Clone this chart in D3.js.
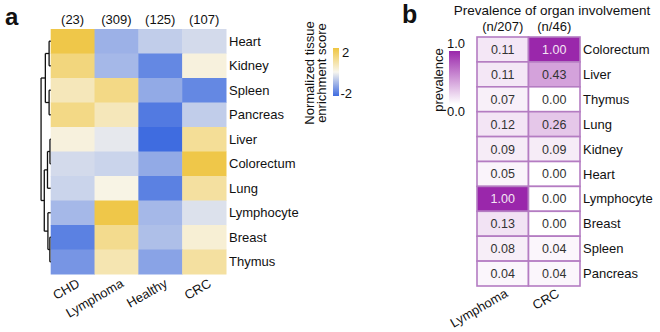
<!DOCTYPE html>
<meta charset="utf-8"/>
<head>
<script src="https://d3js.org/d3.v7.min.js"></script>
<style>
body { margin: 0; background: #fff; }
svg { font-family: "Liberation Sans", Arial, sans-serif; }
text { fill: #111; }
.panel { font-weight: bold; }
</style>
</head>
<body>
<div id="chart"></div>
<script type="text/javascript">

// ---- panel a: tissue enrichment ----
var organsA = ["Heart", "Kidney", "Spleen", "Pancreas", "Liver", "Colorectum", "Lung", "Lymphocyte", "Breast", "Thymus"];
var groupsA = ["CHD", "Lymphoma", "Healthy", "CRC"];
var groupCounts = [23, 309, 125, 107];
var chdScore      = [1.9, 1.3, 0.6, 1.2, 0.2, -0.4, -0.5, -0.9, -1.7, -1.4];
var lymphomaScore = [-1.0, -0.9, 1.2, 0.6, -0.2, -0.5, 0.1, 1.9, 1.1, 0.7];
var healthyScore  = [-0.6, -1.6, -1.1, -1.8, -2.0, -1.1, -1.7, -0.9, -0.8, -1.2];
var crcScore      = [-0.4, 0.2, -1.6, -0.6, 1.0, 1.9, 0.9, -0.3, 0.3, 0.9];

// row clustering (merge heights in arbitrary units)
var rowTree = { h: 9, children: [
  { h: 5, children: [
    { h: 1.5, children: [{ name: "Heart" }, { name: "Kidney" }] },
    { h: 1.5, children: [{ name: "Spleen" }, { name: "Pancreas" }] } ] },
  { h: 6, children: [
    { h: 3, children: [
      { h: 0.7, children: [{ name: "Liver" }, { name: "Colorectum" }] },
      { name: "Lung" } ] },
    { h: 2.6, children: [
      { name: "Lymphocyte" },
      { h: 0.8, children: [{ name: "Breast" }, { name: "Thymus" }] } ] } ] } ] };

// ---- panel b: prevalence ----
var organsB = ["Colorectum", "Liver", "Thymus", "Lung", "Kidney", "Heart", "Lymphocyte", "Breast", "Spleen", "Pancreas"];
var groupsB = ["Lymphoma", "CRC"];
var groupDenoms = ["(n/207)", "(n/46)"];
var lymphomaPrev = [0.11, 0.11, 0.07, 0.12, 0.09, 0.05, 1.00, 0.13, 0.08, 0.04];
var crcPrev      = [1.00, 0.43, 0.00, 0.26, 0.09, 0.00, 0.00, 0.00, 0.04, 0.04];

var W = 660, H = 332;
var svg = d3.select("#chart").append("svg").attr("width", W).attr("height", H);
var defs = svg.append("defs");

var enrichColor = d3.scaleLinear().domain([-2, 0, 2])
    .range(["#3f6ce0", "#f8f6ee", "#efc540"]);
var prevColor = d3.scaleLinear().domain([0, 1]).range(["#ffffff", "#9a27ab"]);

// ===== panel a =====
svg.append("text").attr("class", "panel").attr("x", 5).attr("y", 25)
  .style("font-size", "24px").text("a");

var xA = d3.scaleBand().domain(groupsA).range([50.7, 226]);
var yA = d3.scaleBand().domain(organsA).range([29, 274]);

var scoreCols = [chdScore, lymphomaScore, healthyScore, crcScore];
var cellsA = [];
organsA.forEach(function(o, i) {
  groupsA.forEach(function(g, j) {
    cellsA.push({ organ: o, group: g, v: scoreCols[j][i] });
  });
});

svg.append("g").selectAll("rect").data(cellsA).enter().append("rect")
  .attr("x", function(d) { return xA(d.group); })
  .attr("y", function(d) { return yA(d.organ); })
  .attr("width", xA.bandwidth() + 0.5)
  .attr("height", yA.bandwidth() + 0.5)
  .attr("fill", function(d) { return enrichColor(d.v); });

svg.append("g").selectAll("text").data(groupsA).enter().append("text")
  .attr("x", function(d) { return xA(d) + xA.bandwidth() / 2; })
  .attr("y", 24).attr("text-anchor", "middle")
  .style("font-size", "13px")
  .text(function(d, i) { return "(" + groupCounts[i] + ")"; });

svg.append("g").selectAll("text").data(organsA).enter().append("text")
  .attr("x", 229)
  .attr("y", function(d) { return yA(d) + yA.bandwidth() / 2; })
  .attr("dy", "0.35em")
  .style("font-size", "13px")
  .text(function(d) { return d; });

svg.append("g").selectAll("text").data(groupsA).enter().append("text")
  .attr("text-anchor", "end")
  .attr("transform", function(d) {
    return "translate(" + (xA(d) + xA.bandwidth() / 2 + 8) + ",286) rotate(-30)";
  })
  .style("font-size", "13px")
  .text(function(d) { return d; });

// dendrogram
var root = d3.hierarchy(rowTree);
var hx = d3.scaleLinear().domain([0, 10]).range([50.7, 40]);
root.eachAfter(function(n) {
  if (!n.children) {
    n.py = yA(n.data.name) + yA.bandwidth() / 2;
    n.px = hx(0);
  } else {
    n.py = d3.mean(n.children, function(c) { return c.py; });
    n.px = hx(n.data.h);
  }
});
var dendro = svg.append("g").attr("fill", "none").attr("stroke", "#111").attr("stroke-width", 1.3);
root.descendants().filter(function(n) { return n.children; }).forEach(function(n) {
  var ys = n.children.map(function(c) { return c.py; });
  dendro.append("path").attr("d",
    "M" + n.px + "," + d3.min(ys) + "V" + d3.max(ys));
  n.children.forEach(function(c) {
    dendro.append("path").attr("d", "M" + n.px + "," + c.py + "H" + c.px);
  });
});

// colour key
var gradA = defs.append("linearGradient").attr("id", "gradA")
  .attr("x1", 0).attr("y1", 1).attr("x2", 0).attr("y2", 0);
[-2, -1, 0, 1, 2].forEach(function(v) {
  gradA.append("stop").attr("offset", ((v + 2) / 4 * 100) + "%").attr("stop-color", enrichColor(v));
});
var keyA = d3.scaleLinear().domain([-2, 2]).range([96, 48]);
svg.append("rect").attr("x", 333).attr("y", keyA(2)).attr("width", 6)
  .attr("height", keyA(-2) - keyA(2)).attr("fill", "url(#gradA)");
svg.append("g").selectAll("text").data([2, -2]).enter().append("text")
  .attr("x", function(d) { return d > 0 ? 342 : 340.5; })
  .attr("y", function(d) { return keyA(d) + (d > 0 ? 4 : -3); })
  .attr("dy", "0.35em")
  .style("font-size", "13px")
  .text(function(d) { return d; });
var titleA = svg.append("text").attr("text-anchor", "middle")
  .attr("transform", "translate(314,73) rotate(-90)")
  .style("font-size", "13px");
titleA.append("tspan").attr("x", 0).attr("y", 0).text("Normalized tissue");
titleA.append("tspan").attr("x", 0).attr("y", 12).text("enrichment score");

// ===== panel b =====
svg.append("text").attr("class", "panel").attr("x", 402).attr("y", 23)
  .style("font-size", "25px").text("b");

var xB = d3.scaleBand().domain(groupsB).range([477, 580]);
var yB = d3.scaleBand().domain(organsB).range([37, 286]);

svg.append("text").attr("x", 552).attr("y", 15).attr("text-anchor", "middle")
  .style("font-size", "13.5px").text("Prevalence of organ involvement");
svg.append("g").selectAll("text").data(groupsB).enter().append("text")
  .attr("x", function(d) { return xB(d) + xB.bandwidth() / 2; })
  .attr("y", 31).attr("text-anchor", "middle")
  .style("font-size", "13px")
  .text(function(d, i) { return groupDenoms[i]; });

var prevCols = [lymphomaPrev, crcPrev];
var cellsB = [];
organsB.forEach(function(o, i) {
  groupsB.forEach(function(g, j) {
    cellsB.push({ organ: o, group: g, v: prevCols[j][i] });
  });
});

var cellB = svg.append("g").selectAll("g").data(cellsB).enter().append("g");
cellB.append("rect")
  .attr("x", function(d) { return xB(d.group); })
  .attr("y", function(d) { return yB(d.organ); })
  .attr("width", xB.bandwidth())
  .attr("height", yB.bandwidth())
  .attr("fill", function(d) { return prevColor(d.v); })
  .attr("stroke", "#b47cc2").attr("stroke-width", 1.6);
cellB.append("text")
  .attr("x", function(d) { return xB(d.group) + xB.bandwidth() / 2; })
  .attr("y", function(d) { return yB(d.organ) + yB.bandwidth() / 2; })
  .attr("dy", "0.36em").attr("text-anchor", "middle")
  .style("font-size", "12.5px")
  .style("fill", function(d) { return d.v > 0.6 ? "#f4e6f4" : "#333"; })
  .text(function(d) { return d.v.toFixed(2); });

svg.append("g").selectAll("text").data(organsB).enter().append("text")
  .attr("x", 583)
  .attr("y", function(d) { return yB(d) + yB.bandwidth() / 2; })
  .attr("dy", "0.35em")
  .style("font-size", "13px")
  .text(function(d) { return d; });

svg.append("g").selectAll("text").data(groupsB).enter().append("text")
  .attr("text-anchor", "end")
  .attr("transform", function(d) {
    return "translate(" + (xB(d) + xB.bandwidth() / 2 + 6) + ",296) rotate(-30)";
  })
  .style("font-size", "13px")
  .text(function(d) { return d; });

// prevalence key
var gradB = defs.append("linearGradient").attr("id", "gradB")
  .attr("x1", 0).attr("y1", 1).attr("x2", 0).attr("y2", 0);
[0, 0.5, 1].forEach(function(v) {
  gradB.append("stop").attr("offset", (v * 100) + "%").attr("stop-color", prevColor(v));
});
var keyB = d3.scaleLinear().domain([0, 1]).range([104, 51]);
svg.append("rect").attr("x", 449).attr("y", keyB(1)).attr("width", 11)
  .attr("height", keyB(0) - keyB(1)).attr("fill", "url(#gradB)");
svg.append("g").selectAll("text").data([1, 0]).enter().append("text")
  .attr("x", 456).attr("text-anchor", "middle")
  .attr("y", function(d) { return d > 0 ? keyB(d) - 8 : keyB(d) + 7; })
  .attr("dy", "0.35em")
  .style("font-size", "13px")
  .text(function(d) { return d.toFixed(1); });
svg.append("text").attr("text-anchor", "middle")
  .attr("transform", "translate(443,80) rotate(-90)")
  .style("font-size", "13px").text("prevalence");

</script>
</body>
